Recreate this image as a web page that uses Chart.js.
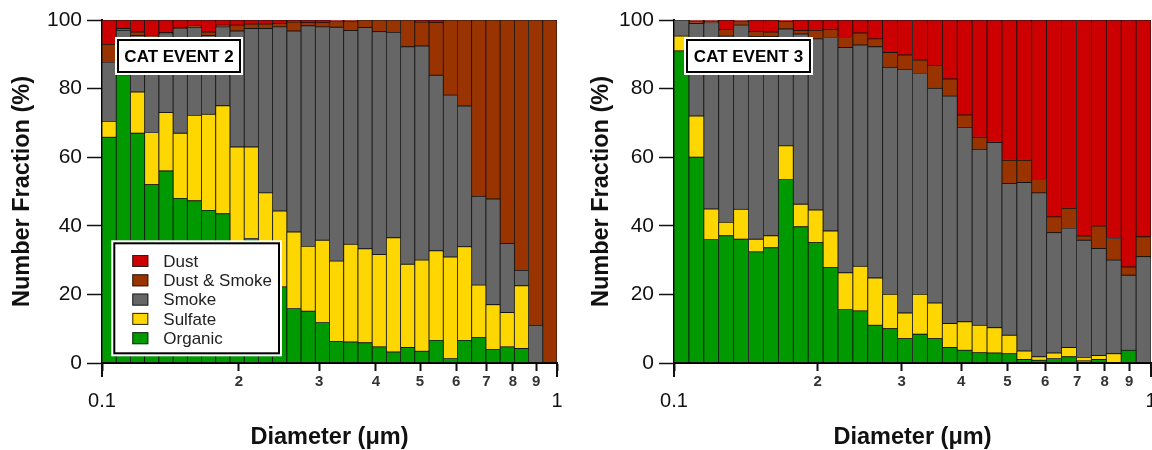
<!DOCTYPE html>
<html>
<head>
<meta charset="utf-8">
<script src="https://cdn.jsdelivr.net/npm/chart.js@4.4.1/dist/chart.umd.min.js"></script>
<style>
  html, body { margin: 0; padding: 0; background: #fff; }
  #wrap { position: relative; width: 1152px; height: 450px; overflow: hidden; }
  #wrap canvas { position: absolute; top: 0; }
</style>
</head>
<body>
<div id="wrap">
  <canvas id="event2" width="576" height="450" style="left:0"></canvas>
  <canvas id="event3" width="576" height="450" style="left:576px"></canvas>
</div>
<script>
// bin mid diameters (um), 32 bins per decade from 0.1 to 1
const binDiameters = [0.10366, 0.11140, 0.11971, 0.12864, 0.13824, 0.14855, 0.15963, 0.17154,
  0.18434, 0.19810, 0.21288, 0.22876, 0.24582, 0.26417, 0.28387, 0.30505,
  0.32781, 0.35227, 0.37855, 0.40680, 0.43714, 0.46976, 0.50481, 0.54247,
  0.58295, 0.62644, 0.67317, 0.72340, 0.77737, 0.83536, 0.89769, 0.96466];

const seriesNames = ["Organic", "Sulfate", "Smoke", "Dust & Smoke", "Dust"];
const seriesColors = ["#009900", "#ffd700", "#666666", "#993300", "#cc0000"];

// CAT EVENT 2 (number fraction, %)
const ev2Organic = [65.8, 84, 67, 52, 56, 48, 47.3, 44.5, 43.5, 34, 36.3, 33, 22.2, 15.9, 15.1, 11.8,
  6.3, 6.1, 5.9, 4.7, 3.2, 4.5, 3.4, 6.6, 1.3, 6.6, 7.4, 3.9, 4.7, 4.2, 0, 0];
const ev2Sulfate = [4.6, 0, 12, 15.2, 17, 19, 24.9, 28, 31.5, 29, 26.7, 16.6, 22.1, 22.3, 18.9, 24,
  23.4, 28.5, 27.4, 26.9, 33.3, 24.3, 26.6, 26.1, 29.6, 27.3, 15.3, 13.1, 10, 18.3, 0, 0];
const ev2Smoke = [17.2, 13, 16.5, 27.8, 23, 30.5, 25.7, 23, 23, 33.8, 34.5, 47.9, 53.7, 58.6, 64.3, 62.2,
  68.2, 62.3, 64.5, 65, 59.9, 63.4, 62.4, 51.2, 47.2, 41, 25.9, 30.8, 20.1, 4.5, 11, 0];
const ev2DustSmoke = [5.3, 0.5, 1, 0.3, 0.3, 0.3, 0.3, 1, 0.5, 1.7, 1.3, 1.3, 1, 2.6, 0.9, 1.2,
  1.6, 2.8, 2.2, 3.4, 3.6, 7.8, 7, 15.3, 21.9, 25.1, 51.4, 52.2, 65.2, 73, 89, 100];
const ev2Dust = [7.1, 2.5, 3.5, 4.7, 3.7, 2.2, 1.8, 3.5, 1.5, 1.5, 1.2, 1.2, 1, 0.6, 0.8, 0.8,
  0.5, 0.3, 0, 0, 0, 0, 0.6, 0.8, 0, 0, 0, 0, 0, 0, 0, 0];

// CAT EVENT 3 (number fraction, %)
const ev3Organic = [91, 60, 36, 37.1, 36.1, 32.4, 33.6, 53.5, 39.7, 35.1, 27.8, 15.6, 15.2, 11, 10, 7.1,
  8.4, 7.1, 4.5, 3.7, 3, 2.9, 2.7, 1, 0.8, 1.3, 1.8, 0.6, 1, 0, 3.7, 0];
const ev3Sulfate = [4.3, 12, 8.9, 3.9, 8.7, 3.7, 3.5, 9.8, 6.6, 9.5, 10.7, 10.7, 13, 13.8, 10, 7.5,
  11.6, 10.4, 7, 8.3, 8, 7.4, 5.4, 2.5, 1, 1.6, 2.7, 1, 1.2, 2.7, 0, 0];
const ev3Smoke = [4.7, 27, 54.3, 54.3, 53.7, 59, 58, 34.1, 49.6, 49.9, 56.4, 65.7, 64.5, 67.4, 66.2, 71,
  64.4, 62.6, 66.3, 56.7, 51.3, 54, 44.2, 49.1, 47.8, 35.1, 34.7, 34.2, 31.2, 27.3, 21.9, 31];
const ev3DustSmoke = [0, 0.5, 0.3, 1.9, 1, 1.5, 1.4, 2.2, 1, 2.5, 2.4, 2.9, 3.5, 2.3, 4.3, 4.2,
  3.9, 6.6, 5, 3.6, 3.5, 0.3, 6.8, 6.5, 3.9, 4.6, 5.9, 1.2, 6.5, 6.3, 2.4, 5.8];
const ev3Dust = [0, 0.5, 0.5, 2.8, 0.5, 3.4, 3.5, 0.4, 3.1, 3, 2.7, 5.1, 3.8, 5.5, 9.5, 10.2,
  11.7, 13.3, 17.2, 27.7, 34.2, 35.4, 40.9, 40.9, 46.5, 57.4, 54.9, 63, 60.1, 63.7, 72, 63.2];

// axis ticks
const xTickValues = [0.1, 0.2, 0.3, 0.4, 0.5, 0.6, 0.7, 0.8, 0.9, 1];
const xTickLabels = ["0.1", "2", "3", "4", "5", "6", "7", "8", "9", "1"];
const xDecadeTicks = [0.1, 1];
const yTickStep = 20;

const FONT = "'Liberation Sans', Arial, Helvetica, sans-serif";
Chart.defaults.font.family = FONT;
Chart.defaults.color = "#111";

const isDecade = c => !!(c.tick && xDecadeTicks.includes(c.tick.value));

function drawBoxFrame(ctx, x, y, w, h) {
  ctx.fillStyle = "#ffffff";
  ctx.fillRect(x - 2, y - 2, w + 4, h + 4);
  ctx.strokeStyle = "#000000";
  ctx.lineWidth = 2;
  ctx.strokeRect(x + 1, y + 1, w - 2, h - 2);
}

// tag box, legend box and the long decade ticks
function panelDecor(cfg) {
  return {
    id: "panelDecor",
    afterDraw(chart) {
      const { ctx, chartArea: area, scales } = chart;
      ctx.save();

      ctx.strokeStyle = "#111";
      ctx.lineWidth = 2;
      xDecadeTicks.forEach(v => {
        const px = Math.round(scales.x.getPixelForValue(v));
        ctx.beginPath();
        ctx.moveTo(px, area.bottom);
        ctx.lineTo(px, area.bottom + 14);
        ctx.stroke();
      });

      const t = cfg.tag;
      const tx = area.left + t.dx, ty = area.top + t.dy;
      drawBoxFrame(ctx, tx, ty, t.w, t.h);
      ctx.fillStyle = "#000";
      ctx.font = "bold 17px " + FONT;
      ctx.textAlign = "center";
      ctx.textBaseline = "middle";
      ctx.fillText(cfg.title, tx + t.w / 2, ty + t.h / 2 + 1);

      if (cfg.legend) {
        const lg = cfg.legend;
        const lx = area.left + lg.dx, ly = area.top + lg.dy;
        drawBoxFrame(ctx, lx, ly, lg.w, lg.h);
        ctx.font = "17px " + FONT;
        ctx.textAlign = "left";
        chart.data.datasets.slice().reverse().forEach((ds, k) => {
          const cy = ly + 18.7 + k * 19.3;
          ctx.fillStyle = ds.backgroundColor;
          ctx.fillRect(lx + 19, cy - 6, 16, 12);
          ctx.strokeStyle = "#222";
          ctx.lineWidth = 1;
          ctx.strokeRect(lx + 19.5, cy - 5.5, 15, 11);
          ctx.fillStyle = "#222";
          ctx.fillText(ds.label, lx + 50, cy + 1);
        });
      }
      ctx.restore();
    }
  };
}

function makePanel(canvasId, series, cfg) {
  const datasets = series.map((values, i) => ({
    label: seriesNames[i],
    data: values,
    backgroundColor: seriesColors[i],
    borderColor: "#151515",
    borderWidth: 0.8,
    borderSkipped: false,
    categoryPercentage: 1,
    barPercentage: 1
  }));

  return new Chart(document.getElementById(canvasId), {
    type: "bar",
    data: { labels: binDiameters, datasets },
    options: {
      responsive: false,
      animation: false,
      devicePixelRatio: 1,
      layout: { padding: { left: 0, right: cfg.padRight, top: 20, bottom: 0 } },
      plugins: { legend: { display: false }, tooltip: { enabled: false } },
      scales: {
        x: {
          type: "logarithmic",
          min: 0.1,
          max: 1,
          stacked: true,
          offset: false,
          afterBuildTicks: s => { s.ticks = xTickValues.map(v => ({ value: v })); },
          afterFit: s => { s.height = 87; s.paddingLeft = 0; s.paddingRight = 0; },
          grid: { offset: false, drawOnChartArea: false, drawTicks: true, tickLength: 8, tickWidth: 2, tickColor: "#111" },
          border: { display: true, color: "#000", width: 2 },
          ticks: {
            autoSkip: false,
            maxRotation: 0,
            minRotation: 0,
            padding: 2,
            callback: (v, i) => xTickLabels[i],
            font: c => isDecade(c) ? { size: 20, lineHeight: 2.87 } : { size: 15, weight: "bold", lineHeight: 1.2 },
            color: c => isDecade(c) ? "#111" : "#333"
          },
          title: {
            display: true,
            text: "Diameter (μm)",
            color: "#111",
            font: { size: 23.5, weight: "bold", lineHeight: 1.1 },
            padding: { top: 0, bottom: 0 }
          }
        },
        y: {
          min: 0,
          max: 100,
          stacked: true,
          afterFit: s => { s.width = cfg.yWidth; s.paddingTop = 0; s.paddingBottom = 0; },
          grid: { drawOnChartArea: false, drawTicks: true, tickLength: 15, tickWidth: 1.5, tickColor: "#111" },
          border: { display: true, color: "#000", width: 2 },
          ticks: { stepSize: yTickStep, padding: 5, font: { size: 21 }, color: "#111" },
          title: {
            display: true,
            text: "Number Fraction (%)",
            color: "#111",
            font: { size: 23.5, weight: "bold", lineHeight: 1.1 },
            padding: { top: cfg.titlePad, bottom: 0 }
          }
        }
      }
    },
    plugins: [panelDecor(cfg)]
  });
}

makePanel("event2", [ev2Organic, ev2Sulfate, ev2Smoke, ev2DustSmoke, ev2Dust], {
  title: "CAT EVENT 2",
  yWidth: 102,
  padRight: 19,
  titlePad: 9.8,
  tag: { dx: 15, dy: 19, w: 124, h: 34 },
  legend: { dx: 11.3, dy: 222.3, w: 166.7, h: 112 }
});

makePanel("event3", [ev3Organic, ev3Sulfate, ev3Smoke, ev3DustSmoke, ev3Dust], {
  title: "CAT EVENT 3",
  yWidth: 98,
  padRight: 1,
  titlePad: 13,
  tag: { dx: 12, dy: 19, w: 125, h: 34 },
  legend: null
});
</script>
</body>
</html>
